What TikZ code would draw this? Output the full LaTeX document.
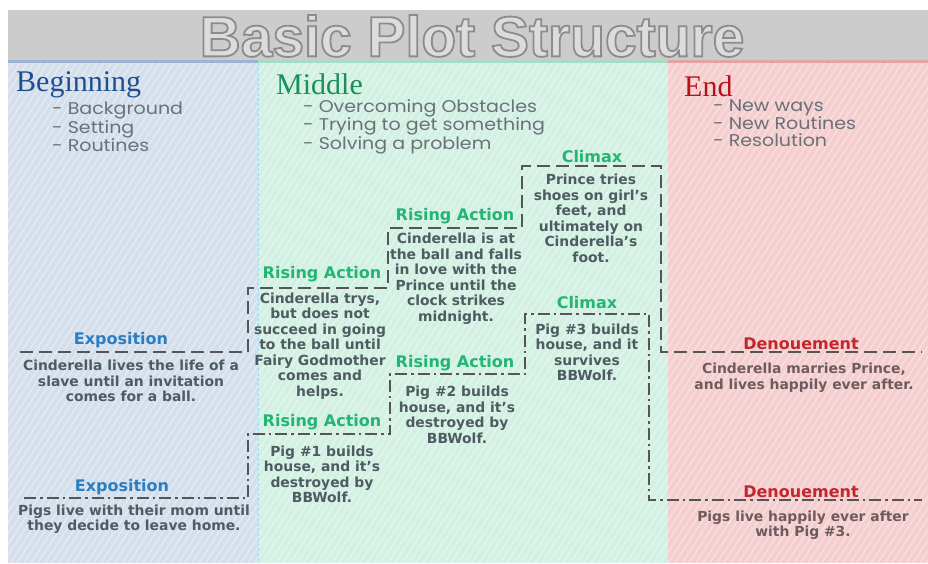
\documentclass[tikz,border=0pt]{standalone}
\usepackage{fontspec}
\setmainfont{DejaVu Sans}
\newfontfamily\headfont{Liberation Serif}
\newfontfamily\listfont[FakeStretch=1.12]{Poppins}
\newfontfamily\titlefont{Liberation Sans}
\usetikzlibrary{positioning}
\definecolor{bandgray}{HTML}{CCCCCC}
\definecolor{titlefill}{HTML}{DCDCDC}
\definecolor{colblue}{HTML}{D5DFEC}
\definecolor{colgreen}{HTML}{D3F1E3}
\definecolor{colred}{HTML}{F5CFD0}
\definecolor{topblue}{HTML}{9DB3D2}
\definecolor{topgreen}{HTML}{A6DCC6}
\definecolor{topred}{HTML}{E3A2A4}
\definecolor{headblue}{HTML}{1D4F91}
\definecolor{headgreen}{HTML}{1A8F5C}
\definecolor{headred}{HTML}{B5121B}
\definecolor{expoblue}{HTML}{2B7FC1}
\definecolor{risegreen}{HTML}{22B573}
\definecolor{denred}{HTML}{C1272D}
\definecolor{textgray}{HTML}{4F5B62}
\definecolor{textred}{HTML}{6F5B5F}
\definecolor{listgray}{HTML}{6B7079}
\definecolor{linegray}{HTML}{555555}
% outlined title letters (fill + stroke)
\newcommand\outlined[1]{\special{pdf:literal direct 2 Tr 0.55 0.55 0.55 RG 1.8 w}#1\special{pdf:literal direct 0 Tr}}
\begin{document}
\begin{tikzpicture}[x=1pt,y=-1pt,
  titletext/.style={font=\titlefont\bfseries\fontsize{57}{59}\selectfont,inner sep=0pt},
  heading/.style={font=\headfont\fontsize{30}{32}\selectfont,anchor=west,inner sep=0pt},
  points/.style={font=\listfont\fontsize{17}{17}\selectfont,align=left,anchor=north west,inner sep=0pt},
  stagelabel/.style={font=\bfseries\fontsize{16}{18}\selectfont,inner sep=0pt},
  stagetext/.style={font=\bfseries\fontsize{13.9}{15.5}\selectfont,align=center,inner sep=0pt,text=textgray},
  cindline/.style={line width=2.4pt,draw=linegray,dash pattern=on 13pt off 6pt},
  pigline/.style={line width=2.4pt,draw=linegray,dash pattern=on 12pt off 4pt on 2.5pt off 4pt}]
\useasboundingbox (0,0) rectangle (928,563);
% background bands
\fill[white] (0,0) rectangle (928,563);
\fill[bandgray] (8,10) rectangle (928,60);
\fill[colblue] (8,60) rectangle (258,563);
\fill[colgreen] (258,60) rectangle (668,563);
\fill[colred] (668,60) rectangle (928,563);
\begin{scope}
\clip (8,60) rectangle (928,563);
\foreach \s in {-340,-333,...,930}
  \draw[white,opacity=0.35,line width=1.3pt] (\s,563) -- (\s+327,60);
\end{scope}
\fill[topblue] (8,60) rectangle (258,63);
\fill[topgreen] (258,60) rectangle (668,63);
\fill[topred] (668,60) rectangle (928,63);
\draw[cyan!40,line width=0.8pt,densely dashed] (258,63) -- (258,563);
% title
\node[titletext,text=titlefill] (title) at (472,36) {\outlined{Basic Plot Structure}};
% column headings
\node[heading,text=headblue] (begin) at (16,85) {Beginning};
\node[points,text=listgray] (beginlist) at (52,102) {- Background\\- Setting\\- Routines};
\node[heading,text=headgreen] (middle) at (276,84) {Middle};
\node[points,text=listgray] (middlelist) at (303,99) {- Overcoming Obstacles\\- Trying to get something\\- Solving a problem};
\node[heading,text=headred] (end) at (684,86) {End};
\node[points,text=listgray] (endlist) at (713,99) {- New ways\\- New Routines\\- Resolution};
% Cinderella staircase
\coordinate (a0) at (20,352);  \coordinate (a1) at (248,352);
\coordinate (a2) at (248,288); \coordinate (a3) at (388,288);
\coordinate (a4) at (388,228); \coordinate (a5) at (522,228);
\coordinate (a6) at (522,166); \coordinate (a7) at (661,166);
\coordinate (a8) at (661,352); \coordinate (a9) at (922,352);
\draw[cindline] (a0) -- (a1) -- (a2) -- (a3) -- (a4) -- (a5) -- (a6) -- (a7) -- (a8) -- (a9);
% pigs staircase
\coordinate (b0) at (24,498);  \coordinate (b1) at (248,498);
\coordinate (b2) at (248,434); \coordinate (b3) at (390,434);
\coordinate (b4) at (390,374); \coordinate (b5) at (525,374);
\coordinate (b6) at (525,314); \coordinate (b7) at (649,314);
\coordinate (b8) at (649,500); \coordinate (b9) at (922,500);
\draw[pigline] (b0) -- (b1) -- (b2) -- (b3) -- (b4) -- (b5) -- (b6) -- (b7) -- (b8) -- (b9);
% Cinderella stages
\node[stagelabel,text=expoblue] (expoA) at (121,340) {Exposition};
\node[stagetext] (expoAtext) at (131,381) {Cinderella lives the life of a\\slave until an invitation\\comes for a ball.};
\node[stagelabel,text=risegreen] (riseA1) at (322,274) {Rising Action};
\node[stagetext] (riseA1text) at (320,346) {Cinderella trys,\\but does not\\succeed in going\\to the ball until\\Fairy Godmother\\comes and\\helps.};
\node[stagelabel,text=risegreen] (riseA2) at (455,216) {Rising Action};
\node[stagetext] (riseA2text) at (456,278.5) {Cinderella is at\\the ball and falls\\in love with the\\Prince until the\\clock strikes\\midnight.};
\node[stagelabel,text=risegreen] (climA) at (592,157) {Climax};
\node[stagetext] (climAtext) at (591,218.5) {Prince tries\\shoes on girl's\\feet, and\\ultimately on\\Cinderella's\\foot.};
\node[stagelabel,text=denred] (denA) at (801,344) {Denouement};
\node[stagetext,text=textred] (denAtext) at (804,377.5) {Cinderella marries Prince,\\and lives happily ever after.};
% pigs stages
\node[stagelabel,text=expoblue] (expoB) at (122,487) {Exposition};
\node[stagetext] (expoBtext) at (134,519) {Pigs live with their mom until\\they decide to leave home.};
\node[stagelabel,text=risegreen] (riseB1) at (322,422) {Rising Action};
\node[stagetext] (riseB1text) at (322,474.5) {Pig \#1 builds\\house, and it's\\destroyed by\\BBWolf.};
\node[stagelabel,text=risegreen] (riseB2) at (455,363) {Rising Action};
\node[stagetext] (riseB2text) at (457,415) {Pig \#2 builds\\house, and it's\\destroyed by\\BBWolf.};
\node[stagelabel,text=risegreen] (climB) at (587,303) {Climax};
\node[stagetext] (climBtext) at (587,352.5) {Pig \#3 builds\\house, and it\\survives\\BBWolf.};
\node[stagelabel,text=denred] (denB) at (801,492) {Denouement};
\node[stagetext,text=textred] (denBtext) at (803,525) {Pigs live happily ever after\\with Pig \#3.};
\end{tikzpicture}
\end{document}
